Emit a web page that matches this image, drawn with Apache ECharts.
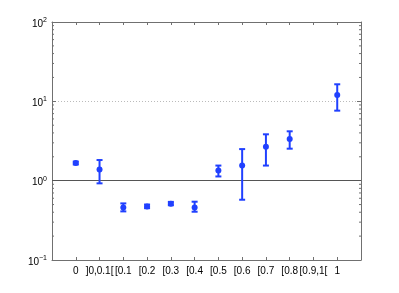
<!DOCTYPE html>
<html>
<head>
<meta charset="utf-8">
<script src="https://cdn.jsdelivr.net/npm/echarts@6/dist/echarts.min.js"></script>
<style>html,body{margin:0;padding:0;background:#fff;}#c{width:399px;height:293px;}</style>
</head>
<body>
<div id="c"></div>
<script>
var categories = ["0", "]0,0.1[", "[0.1", "[0.2", "[0.3", "[0.4", "[0.5", "[0.6", "[0.7", "[0.8", "[0.9,1[", "1"];
var centers = [1.67, 1.38, 0.46, 0.474, 0.513, 0.46, 1.34, 1.55, 2.68, 3.36, null, 12.0];
var lows    = [1.60, 0.925, 0.41, 0.45, 0.49, 0.406, 1.13, 0.575, 1.55, 2.53, null, 7.63];
var highs   = [1.74, 1.82, 0.517, 0.50, 0.54, 0.543, 1.55, 2.5, 3.84, 4.19, null, 16.4];
var yTicks = [0.1, 1, 10, 100];
var refValue = 1;

var blue = '#2040ff';
var axisColor = '#707070';
var font = 'Liberation Sans, Arial, sans-serif';

var errData = [];
for (var i = 0; i < categories.length; i++) {
  if (centers[i] != null) errData.push([i, centers[i], lows[i], highs[i]]);
}
var minorVals = [];
[0.1, 1, 10].forEach(function (d) { for (var k = 2; k <= 9; k++) minorVals.push([d * k]); });

var chart = echarts.init(document.getElementById('c'), null, {renderer: 'canvas'});
var xCommon = {
  type: 'value', min: -1, max: 12, interval: 1,
  axisLine: {show: true, onZero: false, lineStyle: {color: axisColor, width: 1}},
  axisTick: {show: true, inside: true, length: 3, lineStyle: {color: axisColor}},
  splitLine: {show: false}
};
var yCommon = {
  type: 'log', logBase: 10, min: 0.1, max: 100,
  axisLine: {show: true, onZero: false, lineStyle: {color: axisColor, width: 1}},
  axisTick: {show: true, inside: true, length: 4, lineStyle: {color: axisColor}}
};
chart.setOption({
  animation: false,
  backgroundColor: '#fff',
  grid: {left: 52, right: 38, top: 22, bottom: 33, containLabel: false},
  xAxis: [
    Object.assign({}, xCommon, {
      position: 'bottom',
      axisLabel: {
        show: true, color: '#000', fontFamily: font, fontSize: 10, margin: 6,
        formatter: function (v) { return (v >= 0 && v < categories.length) ? categories[v] : ''; }
      }
    }),
    Object.assign({}, xCommon, {position: 'top', axisLabel: {show: false}})
  ],
  yAxis: [
    Object.assign({}, yCommon, {
      position: 'left',
      splitLine: {show: true, lineStyle: {color: '#bbb', type: [1, 2], width: 1}},
      axisLabel: {
        show: true, margin: 5,
        formatter: function (v) {
          var e = Math.round(Math.log10(v));
          return '{a|10}{b|' + (e < 0 ? '\u2212' + (-e) : e) + '}';
        },
        rich: {
          a: {fontFamily: font, fontSize: 10, color: '#000', padding: [4, 0, 0, 0]},
          b: {fontFamily: font, fontSize: 7, color: '#000', padding: [0, 0, 4, 0]}
        }
      }
    }),
    Object.assign({}, yCommon, {position: 'right', splitLine: {show: false}, axisLabel: {show: false}})
  ],
  series: [
    {
      type: 'custom',
      xAxisIndex: 0, yAxisIndex: 0,
      silent: true,
      z: 1,
      data: minorVals,
      renderItem: function (params, api) {
        var v = api.value(0);
        var pl = api.coord([-1, v]);
        var pr = api.coord([12, v]);
        return {
          type: 'group',
          children: [
            {type: 'line', shape: {x1: pl[0], y1: pl[1], x2: pl[0] + 2, y2: pl[1]}, style: {stroke: axisColor, lineWidth: 1}},
            {type: 'line', shape: {x1: pr[0] - 2, y1: pr[1], x2: pr[0], y2: pr[1]}, style: {stroke: axisColor, lineWidth: 1}}
          ]
        };
      }
    },
    {
      type: 'line',
      xAxisIndex: 0, yAxisIndex: 0,
      data: [],
      markLine: {
        silent: true, symbol: 'none', label: {show: false},
        lineStyle: {color: '#555', type: 'solid', width: 1},
        data: [{yAxis: refValue}]
      }
    },
    {
      type: 'custom',
      xAxisIndex: 0, yAxisIndex: 0,
      z: 5,
      data: errData,
      renderItem: function (params, api) {
        var x = api.value(0);
        var c = api.coord([x, api.value(1)]);
        var lo = api.coord([x, api.value(2)]);
        var hi = api.coord([x, api.value(3)]);
        var w = 3;
        var st = {stroke: blue, lineWidth: 2, fill: null};
        return {
          type: 'group',
          children: [
            {type: 'line', shape: {x1: c[0], y1: lo[1], x2: c[0], y2: hi[1]}, style: st},
            {type: 'line', shape: {x1: c[0] - w, y1: lo[1], x2: c[0] + w, y2: lo[1]}, style: st},
            {type: 'line', shape: {x1: c[0] - w, y1: hi[1], x2: c[0] + w, y2: hi[1]}, style: st},
            {type: 'circle', shape: {cx: c[0], cy: c[1], r: 3}, style: {fill: blue, stroke: null}}
          ]
        };
      }
    }
  ]
});
</script>
</body>
</html>
